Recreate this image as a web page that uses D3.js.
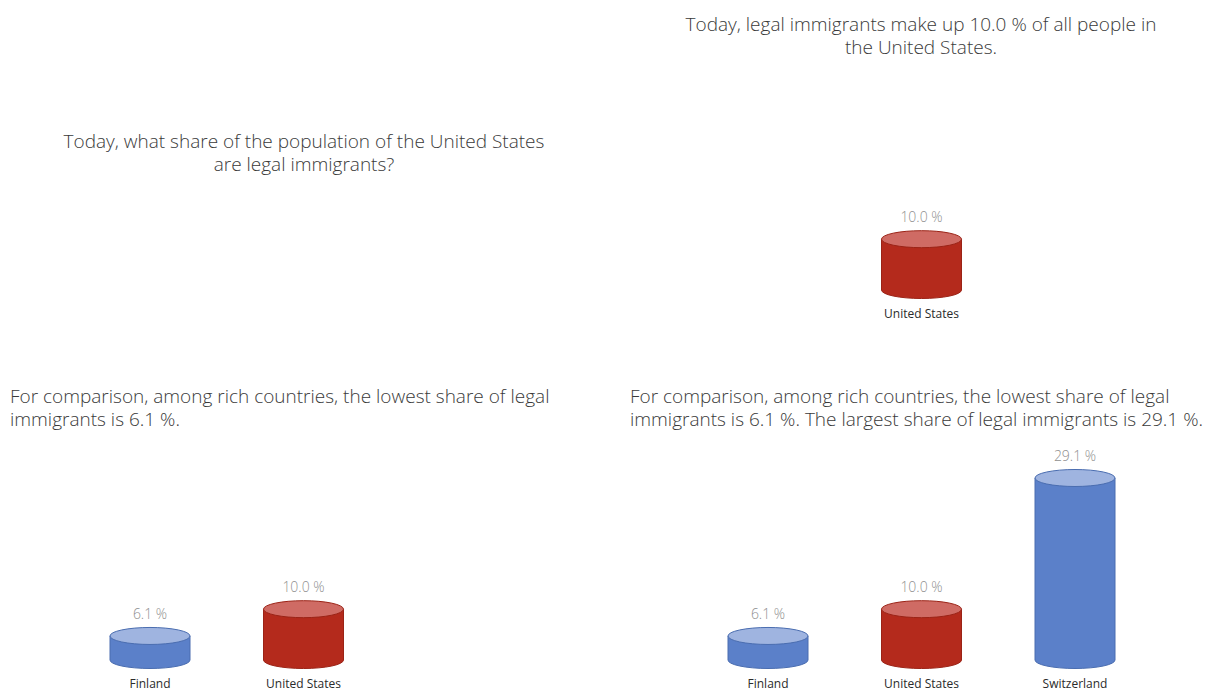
<!DOCTYPE html>
<meta charset="utf-8">
<script src="https://d3js.org/d3.v7.min.js"></script>
<style>
body { margin: 0; background: #fff; }
svg text { font-family: "Open Sans", Lato, sans-serif; }
.title { fill: #3a3a3a; font-size: 19px; font-weight: 300; }
.value { fill: #8f8f8f; font-size: 14px; text-anchor: middle; font-weight: 300; }
.country { fill: #2b2b2b; font-size: 12px; text-anchor: middle; }
</style>
<body>
<script>

// data
var countries = ["Finland", "United States", "Switzerland"];
var shares = [6.1, 10.0, 29.1];
var highlight = ["United States"];

// what each panel shows
var panelCountries = [
  [],
  ["United States"],
  ["Finland", "United States"],
  ["Finland", "United States", "Switzerland"]
];
var panelTitles = [
  ["Today, what share of the population of the United States", "are legal immigrants?"],
  ["Today, legal immigrants make up 10.0 % of all people in", "the United States."],
  ["For comparison, among rich countries, the lowest share of legal", "immigrants is 6.1 %."],
  ["For comparison, among rich countries, the lowest share of legal", "immigrants is 6.1 %. The largest share of legal immigrants is 29.1 %."]
];

var width = 1217, height = 692;

// panel layout
var panels = [
  {x: 0,   base: 290, titleX: 304, titleY: 148, anchor: "middle"},
  {x: 618, base: 290, titleX: 303, titleY: 31,  anchor: "middle"},
  {x: 0,   base: 660, titleX: 10,  titleY: 403, anchor: "start"},
  {x: 618, base: 660, titleX: 12,  titleY: 403, anchor: "start"}
];

var svg = d3.select("body").append("svg")
    .attr("width", width)
    .attr("height", height);

var x = d3.scalePoint()
    .domain(countries)
    .range([150, 457]);

// cylinder body height
var h = d3.scaleLinear()
    .domain([2.6, 29.1])
    .range([0, 182]);

var cw = 80, ry = 8.5;

var colors = {
  blue:  {body: "#5b80c9", top: "#9fb4e0", stroke: "#4a6db0"},
  red:   {body: "#b42a1c", top: "#cf6b64", stroke: "#9b2316"}
};

var lookup = {};
countries.forEach(function(c, i) { lookup[c] = shares[i]; });

panels.forEach(function(p, i) {
  var g = svg.append("g")
      .attr("transform", "translate(" + p.x + ",0)");

  g.append("text")
      .attr("class", "title")
      .attr("text-anchor", p.anchor)
      .selectAll("tspan")
      .data(panelTitles[i])
    .enter().append("tspan")
      .attr("x", p.titleX)
      .attr("y", function(d, j) { return p.titleY + j * 23; })
      .text(function(d) { return d; });

  var data = panelCountries[i].map(function(c) { return {country: c, value: lookup[c]}; });

  var bars = g.selectAll(".cyl")
      .data(data)
    .enter().append("g")
      .attr("class", "cyl")
      .attr("transform", function(d) { return "translate(" + x(d.country) + "," + p.base + ")"; });

  // body
  bars.append("path")
      .attr("d", function(d) {
        var top = -h(d.value), r = cw / 2;
        return "M" + (-r) + "," + top +
          " L" + (-r) + ",0" +
          " A" + r + "," + ry + " 0 0 0 " + r + ",0" +
          " L" + r + "," + top + " Z";
      })
      .attr("fill", function(d) { return highlight.indexOf(d.country) >= 0 ? colors.red.body : colors.blue.body; })
      .attr("stroke", function(d) { return highlight.indexOf(d.country) >= 0 ? colors.red.stroke : colors.blue.stroke; })
      .attr("stroke-width", 1);

  // top ellipse
  bars.append("ellipse")
      .attr("cx", 0)
      .attr("cy", function(d) { return -h(d.value); })
      .attr("rx", cw / 2)
      .attr("ry", ry)
      .attr("fill", function(d) { return highlight.indexOf(d.country) >= 0 ? colors.red.top : colors.blue.top; })
      .attr("stroke", function(d) { return highlight.indexOf(d.country) >= 0 ? colors.red.stroke : colors.blue.stroke; })
      .attr("stroke-width", 1);

  bars.append("text")
      .attr("class", "value")
      .attr("y", function(d) { return -h(d.value) - 17; })
      .text(function(d) { return d.value.toFixed(1) + " %"; });

  bars.append("text")
      .attr("class", "country")
      .attr("y", 28)
      .text(function(d) { return d.country; });
});

</script>
</body>
</html>
